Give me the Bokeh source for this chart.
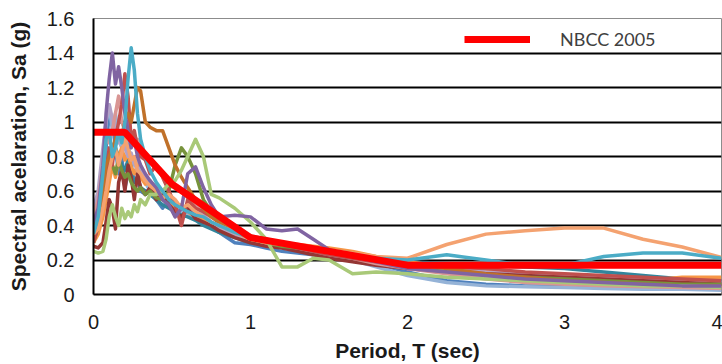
from bokeh.plotting import figure
from bokeh.models import FixedTicker, Legend, LegendItem, Range1d
from bokeh.embed import file_html
from bokeh.resources import INLINE

# ---------------- data ----------------
period = [0.0, 0.03, 0.06, 0.08, 0.10, 0.12, 0.14, 0.16, 0.18, 0.20,
          0.22, 0.24, 0.26, 0.28, 0.30, 0.33, 0.36, 0.40, 0.44, 0.48,
          0.52, 0.56, 0.60, 0.65, 0.70, 0.75, 0.80, 0.90, 1.00, 1.10,
          1.20, 1.30, 1.40, 1.50, 1.65, 1.80, 2.00, 2.25, 2.50, 2.75,
          3.00, 3.25, 3.50, 3.75, 4.00]

rec_blue = [0.32, 0.40, 0.65, 0.85, 1.05, 1.00, 0.85, 0.70, 0.80, 0.62,
            0.70, 0.75, 0.65, 0.68, 0.60, 0.58, 0.62, 0.55, 0.50, 0.55,
            0.48, 0.45, 0.50, 0.46, 0.42, 0.40, 0.36, 0.30, 0.29, 0.27,
            0.25, 0.24, 0.23, 0.22, 0.20, 0.18, 0.13, 0.08, 0.06, 0.05,
            0.05, 0.04, 0.04, 0.03, 0.03]
rec_lightblue = [0.40, 0.55, 0.80, 1.00, 1.10, 0.95, 1.05, 0.90, 0.85, 0.95,
                 0.85, 0.80, 0.75, 0.78, 0.70, 0.65, 0.60, 0.58, 0.55, 0.52,
                 0.50, 0.48, 0.47, 0.45, 0.42, 0.40, 0.38, 0.34, 0.32, 0.30,
                 0.28, 0.26, 0.25, 0.23, 0.20, 0.16, 0.11, 0.07, 0.05, 0.045,
                 0.04, 0.035, 0.03, 0.03, 0.025]
rec_darkteal = [0.38, 0.45, 0.60, 0.75, 0.82, 0.78, 0.85, 0.80, 0.75, 0.72,
                0.78, 0.70, 0.65, 0.68, 0.62, 0.60, 0.58, 0.55, 0.52, 0.50,
                0.48, 0.46, 0.45, 0.43, 0.40, 0.38, 0.36, 0.33, 0.30, 0.29,
                0.28, 0.27, 0.25, 0.24, 0.22, 0.20, 0.19, 0.18, 0.17, 0.16,
                0.15, 0.13, 0.11, 0.09, 0.075]
rec_orange = [0.30, 0.35, 0.45, 0.55, 0.65, 0.75, 0.68, 0.80, 0.85, 0.78,
              0.82, 0.74, 0.70, 0.75, 0.68, 0.64, 0.66, 0.60, 0.57, 0.54,
              0.50, 0.52, 0.48, 0.45, 0.43, 0.41, 0.38, 0.34, 0.31, 0.30,
              0.29, 0.29, 0.28, 0.27, 0.25, 0.22, 0.19, 0.16, 0.14, 0.12,
              0.10, 0.08, 0.08, 0.10, 0.10]
rec_lavender = [0.50, 0.60, 0.85, 1.00, 1.10, 1.02, 0.95, 0.88, 0.92, 0.85,
                0.80, 0.82, 0.76, 0.72, 0.74, 0.68, 0.64, 0.62, 0.58, 0.55,
                0.52, 0.50, 0.48, 0.50, 0.46, 0.42, 0.38, 0.35, 0.31, 0.29,
                0.27, 0.26, 0.25, 0.24, 0.22, 0.20, 0.17, 0.15, 0.13, 0.12,
                0.11, 0.10, 0.09, 0.08, 0.07]
rec_darkred = [0.28, 0.27, 0.30, 0.42, 0.55, 0.50, 0.38, 0.65, 0.72, 0.60,
               0.75, 0.68, 0.55, 0.70, 0.62, 0.58, 0.62, 0.55, 0.60, 0.52,
               0.48, 0.45, 0.50, 0.44, 0.42, 0.40, 0.37, 0.33, 0.30, 0.28,
               0.27, 0.25, 0.23, 0.21, 0.19, 0.17, 0.15, 0.13, 0.12, 0.11,
               0.10, 0.09, 0.08, 0.07, 0.06]
rec_olive = [0.30, 0.40, 0.55, 0.70, 0.80, 0.75, 0.70, 0.78, 0.72, 0.68,
             0.70, 0.65, 0.62, 0.60, 0.62, 0.58, 0.60, 0.56, 0.55, 0.60,
             0.75, 0.85, 0.80, 0.70, 0.55, 0.48, 0.40, 0.38, 0.32, 0.30,
             0.28, 0.27, 0.26, 0.24, 0.22, 0.19, 0.16, 0.13, 0.11, 0.10,
             0.09, 0.08, 0.07, 0.06, 0.06]
rec_pink = [0.45, 0.55, 0.75, 0.90, 0.88, 0.95, 1.05, 1.15, 1.00, 0.95,
            1.00, 0.92, 0.88, 0.90, 0.85, 0.82, 0.78, 0.74, 0.70, 0.66,
            0.62, 0.60, 0.56, 0.52, 0.48, 0.46, 0.42, 0.36, 0.34, 0.32,
            0.30, 0.28, 0.26, 0.24, 0.21, 0.18, 0.15, 0.12, 0.09, 0.07,
            0.06, 0.05, 0.045, 0.04, 0.035]
rec_red = [0.30, 0.40, 0.55, 0.70, 0.85, 0.75, 0.90, 1.00, 1.10, 1.28,
           1.15, 0.90, 0.95, 0.85, 0.80, 0.78, 0.70, 0.75, 0.68, 0.60,
           0.52, 0.40, 0.55, 0.50, 0.48, 0.45, 0.42, 0.38, 0.34, 0.30,
           0.29, 0.27, 0.25, 0.23, 0.21, 0.19, 0.17, 0.16, 0.15, 0.13,
           0.12, 0.11, 0.10, 0.09, 0.08]
rec_brown = [0.38, 0.45, 0.60, 0.75, 0.80, 0.85, 0.90, 0.95, 0.92, 1.00,
             1.05, 1.00, 1.10, 1.20, 1.18, 1.00, 0.97, 0.95, 0.95, 0.85,
             0.75, 0.68, 0.62, 0.55, 0.50, 0.45, 0.42, 0.37, 0.33, 0.31,
             0.30, 0.28, 0.27, 0.26, 0.24, 0.21, 0.18, 0.15, 0.12, 0.10,
             0.08, 0.07, 0.06, 0.05, 0.05]
rec_lightorange = [0.35, 0.38, 0.50, 0.60, 0.72, 0.80, 0.85, 0.75, 0.82, 0.90,
                   0.85, 0.78, 0.80, 0.72, 0.70, 0.66, 0.63, 0.60, 0.56, 0.58,
                   0.55, 0.50, 0.52, 0.48, 0.45, 0.42, 0.40, 0.36, 0.32, 0.30,
                   0.29, 0.28, 0.27, 0.26, 0.24, 0.22, 0.21, 0.29, 0.35, 0.37,
                   0.385, 0.385, 0.32, 0.275, 0.215]
rec_lightgreen = [0.25, 0.24, 0.25, 0.32, 0.45, 0.52, 0.45, 0.40, 0.50, 0.44,
                  0.48, 0.45, 0.52, 0.48, 0.55, 0.52, 0.58, 0.58, 0.60, 0.64,
                  0.66, 0.72, 0.80, 0.90, 0.80, 0.58, 0.56, 0.50, 0.42, 0.32,
                  0.16, 0.16, 0.21, 0.20, 0.12, 0.13, 0.12, 0.10, 0.09, 0.08,
                  0.07, 0.06, 0.05, 0.05, 0.04]
rec_purple = [0.42, 0.50, 0.75, 1.05, 1.25, 1.40, 1.22, 1.32, 1.20, 1.05,
              0.95, 0.85, 0.90, 0.80, 0.75, 0.70, 0.66, 0.62, 0.55, 0.52,
              0.45, 0.50, 0.70, 0.74, 0.62, 0.52, 0.45, 0.46, 0.45, 0.38,
              0.37, 0.38, 0.32, 0.26, 0.22, 0.19, 0.15, 0.13, 0.11, 0.09,
              0.08, 0.07, 0.06, 0.05, 0.05]
rec_teal = [0.35, 0.45, 0.70, 0.90, 0.95, 0.80, 0.85, 0.95, 0.88, 1.00,
            1.25, 1.43, 1.30, 1.05, 0.90, 0.80, 0.72, 0.65, 0.60, 0.55,
            0.52, 0.50, 0.48, 0.46, 0.45, 0.42, 0.40, 0.36, 0.33, 0.32,
            0.30, 0.28, 0.26, 0.24, 0.22, 0.21, 0.20, 0.23, 0.20, 0.17,
            0.17, 0.22, 0.24, 0.24, 0.21]

records = [rec_blue, rec_lightblue, rec_darkteal, rec_orange, rec_lavender,
           rec_darkred, rec_olive, rec_pink, rec_red, rec_brown,
           rec_lightorange, rec_lightgreen, rec_purple, rec_teal]
record_colors = ["#4F81BD", "#95B3D7", "#31859C", "#F79646", "#B3A2C7",
                 "#943634", "#77933C", "#D99694", "#C0504D", "#C0712A",
                 "#F4A270", "#A9C978", "#8064A2", "#4BACC6"]

nbcc_period = [0.0, 0.2, 0.5, 1.0, 2.0, 4.0]
nbcc_sa = [0.94, 0.94, 0.64, 0.33, 0.17, 0.17]

y_ticks = [0.0, 0.2, 0.4, 0.6, 0.8, 1.0, 1.2, 1.4, 1.6]
y_tick_labels = ["0", "0.2", "0.4", "0.6", "0.8", "1", "1.2", "1.4", "1.6"]
x_ticks = [0, 1, 2, 3, 4]
x_tick_labels = ["0", "1", "2", "3", "4"]

# ---------------- figure ----------------
p = figure(width=722, height=364, output_backend="svg", toolbar_location=None,
           x_range=Range1d(0, 4), y_range=Range1d(0, 1.6),
           min_border_left=93, min_border_right=1, min_border_top=18,
           min_border_bottom=69)
p.background_fill_color = "white"
p.border_fill_color = "white"
p.outline_line_color = "#8c8c8c"
p.outline_line_width = 1

for vals, col in zip(records, record_colors):
    p.line(period, vals, line_color=col, line_width=3.5, line_join="round")

nb = p.line(nbcc_period, nbcc_sa, line_color="#FF0000", line_width=7)

# axes
p.xaxis.ticker = FixedTicker(ticks=x_ticks)
p.yaxis.ticker = FixedTicker(ticks=y_ticks)
p.xaxis.major_label_overrides = {t: s for t, s in zip(x_ticks, x_tick_labels)}
p.yaxis.major_label_overrides = {t: s for t, s in zip(y_ticks, y_tick_labels)}
for ax in (p.xaxis[0], p.yaxis[0]):
    ax.major_tick_line_color = None
    ax.minor_tick_line_color = None
    ax.axis_line_color = "black"
    ax.axis_line_width = 2
    ax.major_label_text_font = "Liberation Sans"
    ax.major_label_text_font_size = "20px"
    ax.major_label_text_color = "#1a1a1a"
    ax.axis_label_text_font = "Liberation Sans"
    ax.axis_label_text_font_size = "21px"
    ax.axis_label_text_font_style = "bold"
    ax.axis_label_text_color = "#1a1a1a"
p.xaxis.axis_label = "Period, T (sec)"
p.yaxis.axis_label = "Spectral acelaration, Sa (g)"
p.xaxis.major_label_standoff = 14
p.yaxis.major_label_standoff = 13
p.xaxis.axis_label_standoff = 7
p.yaxis.axis_label_standoff = 14

p.xgrid.grid_line_color = None
p.ygrid.ticker = FixedTicker(ticks=y_ticks)
p.ygrid.grid_line_color = "black"
p.ygrid.grid_line_width = 2

legend = Legend(items=[LegendItem(label="NBCC 2005", renderers=[nb])],
                location=(371, 244), orientation="vertical")
legend.glyph_width = 66
legend.glyph_height = 20
legend.label_standoff = 30
legend.padding = 0
legend.margin = 0
legend.spacing = 0
legend.border_line_color = None
legend.background_fill_color = "white"
legend.background_fill_alpha = 1.0
legend.label_text_font = "Lato"
legend.label_text_font_size = "18px"
legend.label_text_color = "#404040"
p.add_layout(legend, "center")

open("out.html", "w").write(file_html(p, INLINE))
